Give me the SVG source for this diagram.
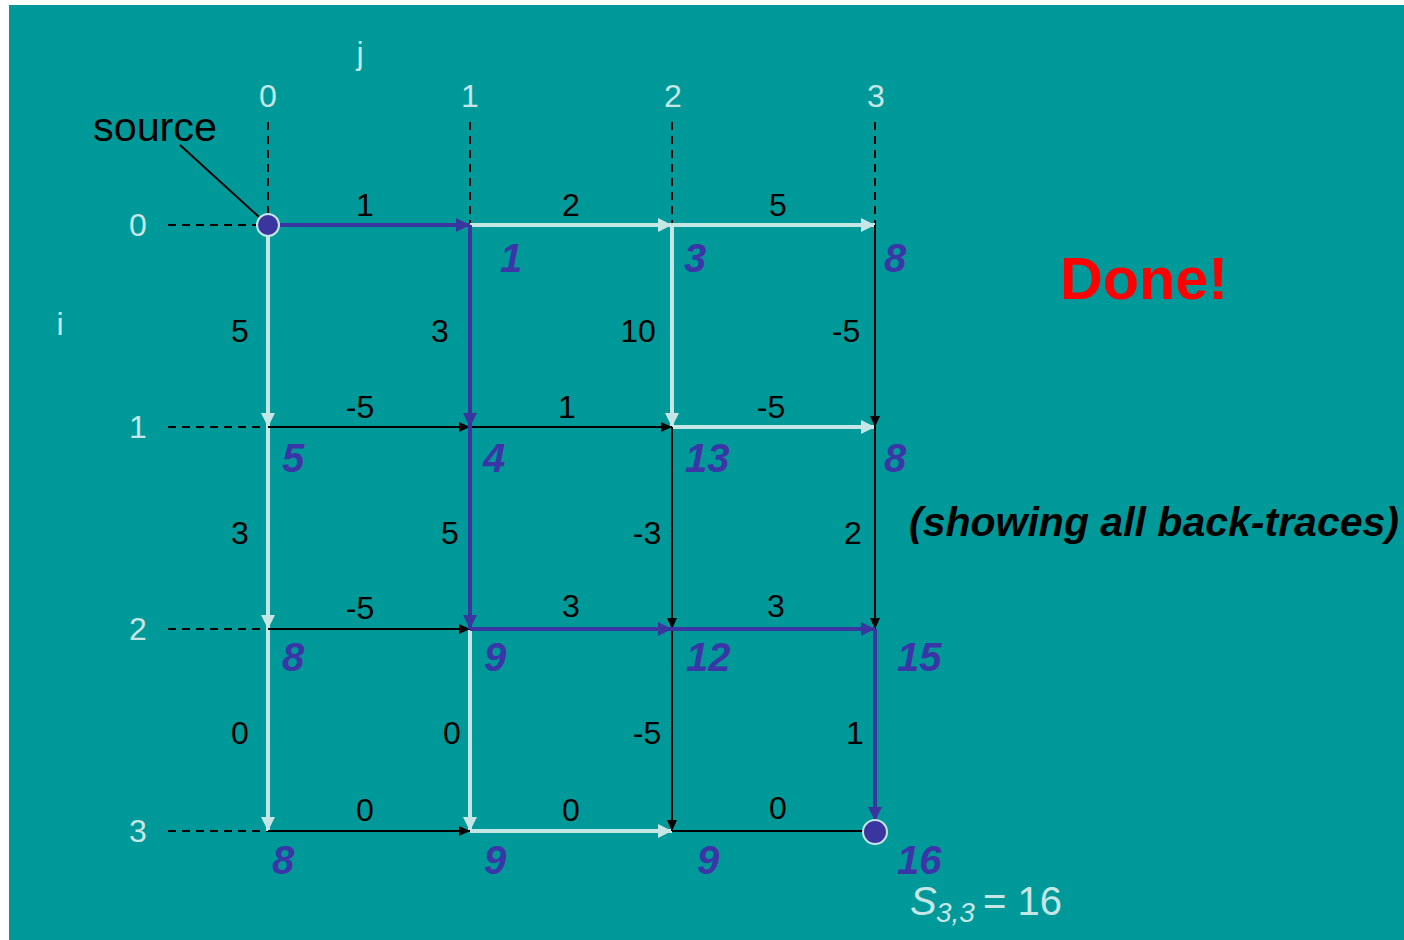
<svg xmlns="http://www.w3.org/2000/svg" width="1404" height="940" viewBox="0 0 1404 940">
<style>
.ax{font-family:"Liberation Sans",Arial,sans-serif;font-size:32px;fill:#c6e6e6}
.w{font-family:"Liberation Sans",Arial,sans-serif;font-size:32px;fill:#000}
.sc{font-family:"Liberation Sans",Arial,sans-serif;font-size:40px;font-weight:bold;font-style:italic;fill:#3b35a8}
.dash{stroke:#000;stroke-width:2;stroke-dasharray:8,6;fill:none}
.lt{stroke:#c6e6e6;stroke-width:4;fill:none;marker-end:url(#mL)}
.pu{stroke:#3b35a0;stroke-width:4;fill:none;marker-end:url(#mP)}
.bk{stroke:#000;stroke-width:2;fill:none;marker-end:url(#mB)}
.dot{fill:#3b35a0;stroke:#c6e6e6;stroke-width:2}
</style>
<defs>
<marker id="mL" markerUnits="userSpaceOnUse" markerWidth="16" markerHeight="14" refX="14" refY="7" orient="auto"><path d="M0,0 L14,7 L0,14 z" fill="#c6e6e6"/></marker>
<marker id="mP" markerUnits="userSpaceOnUse" markerWidth="16" markerHeight="14" refX="14" refY="7" orient="auto"><path d="M0,0 L14,7 L0,14 z" fill="#3b35a0"/></marker>
<marker id="mB" markerUnits="userSpaceOnUse" markerWidth="12" markerHeight="10" refX="11" refY="5" orient="auto"><path d="M0,0 L11,5 L0,10 z" fill="#000"/></marker>
</defs>
<rect x="0" y="0" width="1404" height="940" fill="#fff"/>
<rect x="9" y="5" width="1395" height="935" fill="#009999"/>

<g id="axes">
<text class="ax" x="360" y="64" text-anchor="middle">j</text>
<text class="ax" x="60" y="335" text-anchor="middle">i</text>
<text class="ax" x="268" y="107" text-anchor="middle">0</text>
<text class="ax" x="470" y="107" text-anchor="middle">1</text>
<text class="ax" x="673" y="107" text-anchor="middle">2</text>
<text class="ax" x="876" y="107" text-anchor="middle">3</text>
<text class="ax" x="138" y="236" text-anchor="middle">0</text>
<text class="ax" x="138" y="438" text-anchor="middle">1</text>
<text class="ax" x="138" y="640" text-anchor="middle">2</text>
<text class="ax" x="138" y="842" text-anchor="middle">3</text>
<path class="dash" d="M268,122 V225 M470,122 V225 M672,122 V225 M875,122 V225"/>
<path class="dash" d="M168,225 H268 M168,427 H268 M168,629 H268 M168,831 H268"/>
</g>

<g id="connectors">
<path class="lt" d="M268,225 V427"/>
<path class="lt" d="M268,427 V629"/>
<path class="lt" d="M268,629 V831"/>
<path class="lt" d="M470,225 H672"/>
<path class="lt" d="M672,225 H875"/>
<path class="lt" d="M672,225 V427"/>
<path class="lt" d="M672,427 H875"/>
<path class="lt" d="M470,629 V831"/>
<path class="lt" d="M470,831 H672"/>
<path class="bk" d="M268,427 H470"/>
<path class="bk" d="M470,427 H672"/>
<path class="bk" d="M268,629 H470"/>
<path class="bk" d="M268,831 H470"/>
<path class="bk" d="M672,427 V629"/>
<path class="bk" d="M672,629 V831"/>
<path class="bk" d="M875,225 V427"/>
<path class="bk" d="M875,427 V629"/>
<path d="M672,831 H866" stroke="#000" stroke-width="2" fill="none"/>
<path class="pu" d="M268,225 H470"/>
<path class="pu" d="M470,225 V427"/>
<path class="pu" d="M470,427 V629"/>
<path class="pu" d="M470,629 H672"/>
<path class="pu" d="M672,629 H875"/>
<path class="pu" d="M875,629 V821"/>
<line x1="180" y1="145" x2="259" y2="217" stroke="#000" stroke-width="2"/>
</g>

<g id="weights">
<text class="w" x="365" y="216" text-anchor="middle">1</text>
<text class="w" x="571" y="216" text-anchor="middle">2</text>
<text class="w" x="778" y="216" text-anchor="middle">5</text>
<text class="w" x="360" y="418" text-anchor="middle">-5</text>
<text class="w" x="567" y="418" text-anchor="middle">1</text>
<text class="w" x="771" y="418" text-anchor="middle">-5</text>
<text class="w" x="360" y="619" text-anchor="middle">-5</text>
<text class="w" x="571" y="617" text-anchor="middle">3</text>
<text class="w" x="776" y="617" text-anchor="middle">3</text>
<text class="w" x="365" y="821" text-anchor="middle">0</text>
<text class="w" x="571" y="821" text-anchor="middle">0</text>
<text class="w" x="778" y="819" text-anchor="middle">0</text>
<text class="w" x="240" y="342" text-anchor="middle">5</text>
<text class="w" x="240" y="544" text-anchor="middle">3</text>
<text class="w" x="240" y="744" text-anchor="middle">0</text>
<text class="w" x="440" y="342" text-anchor="middle">3</text>
<text class="w" x="450" y="544" text-anchor="middle">5</text>
<text class="w" x="452" y="744" text-anchor="middle">0</text>
<text class="w" x="638" y="342" text-anchor="middle">10</text>
<text class="w" x="647" y="544" text-anchor="middle">-3</text>
<text class="w" x="647" y="744" text-anchor="middle">-5</text>
<text class="w" x="846" y="342" text-anchor="middle">-5</text>
<text class="w" x="853" y="544" text-anchor="middle">2</text>
<text class="w" x="855" y="744" text-anchor="middle">1</text>
</g>

<g id="source">
<circle class="dot" cx="268" cy="225" r="11"/>
<text x="93" y="141" font-family="Liberation Sans,Arial,sans-serif" font-size="40" fill="#000" textLength="124" lengthAdjust="spacingAndGlyphs">source</text>
</g>
<g id="sink"><circle class="dot" cx="875" cy="832" r="12"/></g>

<g id="scores">
<text class="sc" x="500" y="272">1</text>
<text class="sc" x="684" y="272">3</text>
<text class="sc" x="884" y="272">8</text>
<text class="sc" x="282" y="472">5</text>
<text class="sc" x="483" y="472">4</text>
<text class="sc" x="685" y="472">13</text>
<text class="sc" x="884" y="472">8</text>
<text class="sc" x="282" y="671">8</text>
<text class="sc" x="484" y="671">9</text>
<text class="sc" x="686" y="671">12</text>
<text class="sc" x="897" y="671">15</text>
<text class="sc" x="272" y="874">8</text>
<text class="sc" x="484" y="874">9</text>
<text class="sc" x="697" y="874">9</text>
<text class="sc" x="897" y="874">16</text>
</g>

<g id="done"><text x="1060" y="299" font-family="Liberation Sans,Arial,sans-serif" font-size="60" font-weight="bold" fill="#ff0000" textLength="168" lengthAdjust="spacingAndGlyphs">Done!</text></g>
<g id="note"><text x="909" y="536" font-family="Liberation Sans,Arial,sans-serif" font-size="40" font-weight="bold" font-style="italic" fill="#000" textLength="490" lengthAdjust="spacingAndGlyphs">(showing all back-traces)</text></g>
<g id="result">
<text font-family="Liberation Sans,Arial,sans-serif" fill="#c6e6e6" y="915"><tspan x="910" font-size="40" font-style="italic">S</tspan><tspan x="936" y="922" font-size="28" font-style="italic">3,3</tspan><tspan x="983" y="915" font-size="40">= 16</tspan></text>
</g>
</svg>
